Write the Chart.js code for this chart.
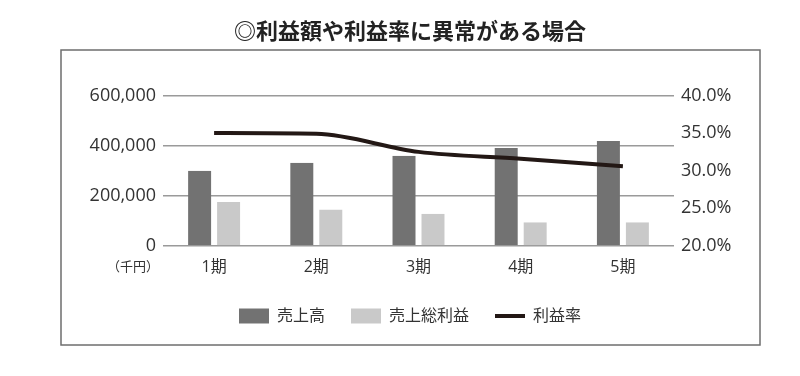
<!DOCTYPE html>
<html>
<head>
<meta charset="utf-8">
<script src="https://cdn.jsdelivr.net/npm/chart.js@4"></script>
<style>
  html, body { margin: 0; padding: 0; background: #fff; }
  #wrap { width: 800px; height: 376px; position: relative; }
</style>
</head>
<body>
<div id="wrap"><canvas id="c" width="800" height="376"></canvas></div>
<script>
// ---- data ----
const categories = ['1期', '2期', '3期', '4期', '5期'];
const sales = [300000, 332000, 360000, 390000, 418000];        // 売上高 (千円)
const grossProfit = [175000, 145000, 128000, 95000, 95000];    // 売上総利益 (千円)
const profitRate = [35.0, 34.9, 32.5, 31.6, 30.6];             // 利益率 (%)
const leftTicks = [0, 200000, 400000, 600000];
const rightTicks = [20, 25, 30, 35, 40];
const seriesNames = ['売上高', '売上総利益', '利益率'];
const titleText = '◎利益額や利益率に異常がある場合';
const unitText = '（千円）';

const FONT = "'Open Sans', 'Noto Sans CJK JP', sans-serif";
const CJK = "'Noto Sans CJK JP', sans-serif";

const framePlugin = {
  id: 'frame',
  beforeDraw(chart) {
    const ctx = chart.ctx;
    ctx.save();
    ctx.fillStyle = '#ffffff';
    ctx.fillRect(0, 0, chart.width, chart.height);
    ctx.strokeStyle = '#6e6e6e';
    ctx.lineWidth = 1.5;
    ctx.strokeRect(61, 50, 699, 295);
    ctx.restore();
  },
  afterDraw(chart) {
    const ctx = chart.ctx;
    const y = chart.scales.y;
    ctx.save();
    ctx.fillStyle = '#333';
    ctx.font = '13px ' + CJK;
    ctx.textAlign = 'center';
    ctx.textBaseline = 'middle';
    ctx.fillText(unitText, y.right - 30, chart.chartArea.bottom + 20);
    ctx.restore();
  }
};

new Chart(document.getElementById('c'), {
  type: 'bar',
  data: {
    labels: categories,
    datasets: [
      {
        label: seriesNames[0],
        data: sales,
        backgroundColor: '#727272',
        borderColor: 'rgba(0,0,0,0)',
        borderWidth: { left: 3, right: 3, top: 0, bottom: 0 },
        borderSkipped: false,
        categoryPercentage: 0.567,
        barPercentage: 1.0,
        yAxisID: 'y',
        order: 1
      },
      {
        label: seriesNames[1],
        data: grossProfit,
        backgroundColor: '#c9c9c9',
        borderColor: 'rgba(0,0,0,0)',
        borderWidth: { left: 3, right: 3, top: 0, bottom: 0 },
        borderSkipped: false,
        categoryPercentage: 0.567,
        barPercentage: 1.0,
        yAxisID: 'y',
        order: 1
      },
      {
        type: 'line',
        label: seriesNames[2],
        data: profitRate,
        borderColor: '#231815',
        backgroundColor: '#231815',
        borderWidth: 4,
        pointRadius: 0,
        cubicInterpolationMode: 'monotone',
        yAxisID: 'y1',
        order: 0
      }
    ]
  },
  options: {
    responsive: false,
    animation: false,
    events: [],
    layout: { padding: { left: 20, right: 0, top: 0, bottom: 42 } },
    scales: {
      x: {
        grid: { display: false },
        border: { display: false },
        ticks: { color: '#333', font: { family: FONT, size: 16 }, padding: 4 },
        afterFit(s) { s.height = 36; }
      },
      y: {
        position: 'left',
        min: 0, max: 600000,
        afterBuildTicks(s) { s.ticks = leftTicks.map(v => ({ value: v })); },
        grid: { color: '#9a9a9a', lineWidth: 1.5, drawTicks: false },
        border: { display: false },
        ticks: {
          color: '#333', padding: 7,
          font: { family: FONT, size: 18 },
          callback: v => v.toLocaleString('en-US')
        },
        afterFit(s) { s.width = 143; }
      },
      y1: {
        position: 'right',
        min: 20, max: 40,
        afterBuildTicks(s) { s.ticks = rightTicks.map(v => ({ value: v })); },
        grid: { display: false, drawTicks: false },
        border: { display: false },
        ticks: {
          color: '#333', padding: 7,
          font: { family: FONT, size: 18 },
          callback: v => Number(v).toFixed(1) + '%'
        },
        afterFit(s) { s.width = 126; }
      }
    },
    plugins: {
      tooltip: { enabled: false },
      title: {
        display: true,
        text: titleText,
        color: '#222',
        font: { family: CJK, size: 22, weight: 'bold' },
        padding: { top: 17, bottom: 52 }
      },
      legend: {
        position: 'bottom',
        labels: {
          color: '#333',
          font: { family: FONT, size: 16 },
          usePointStyle: true,
          pointStyleWidth: 30,
          boxHeight: 15,
          padding: 26,
          generateLabels(chart) {
            const items = Chart.defaults.plugins.legend.labels.generateLabels(chart);
            items.sort((a, b) => a.datasetIndex - b.datasetIndex);
            items.forEach(it => {
              const ds = chart.data.datasets[it.datasetIndex];
              if (ds.type === 'line') {
                it.pointStyle = 'line';
                it.lineWidth = 4;
                it.strokeStyle = ds.borderColor;
                it.fillStyle = ds.borderColor;
              } else {
                it.pointStyle = 'rect';
                it.lineWidth = 0;
                it.fillStyle = ds.backgroundColor;
                it.strokeStyle = ds.backgroundColor;
              }
            });
            return items;
          }
        }
      }
    }
  },
  plugins: [framePlugin]
});
</script>
</body>
</html>
